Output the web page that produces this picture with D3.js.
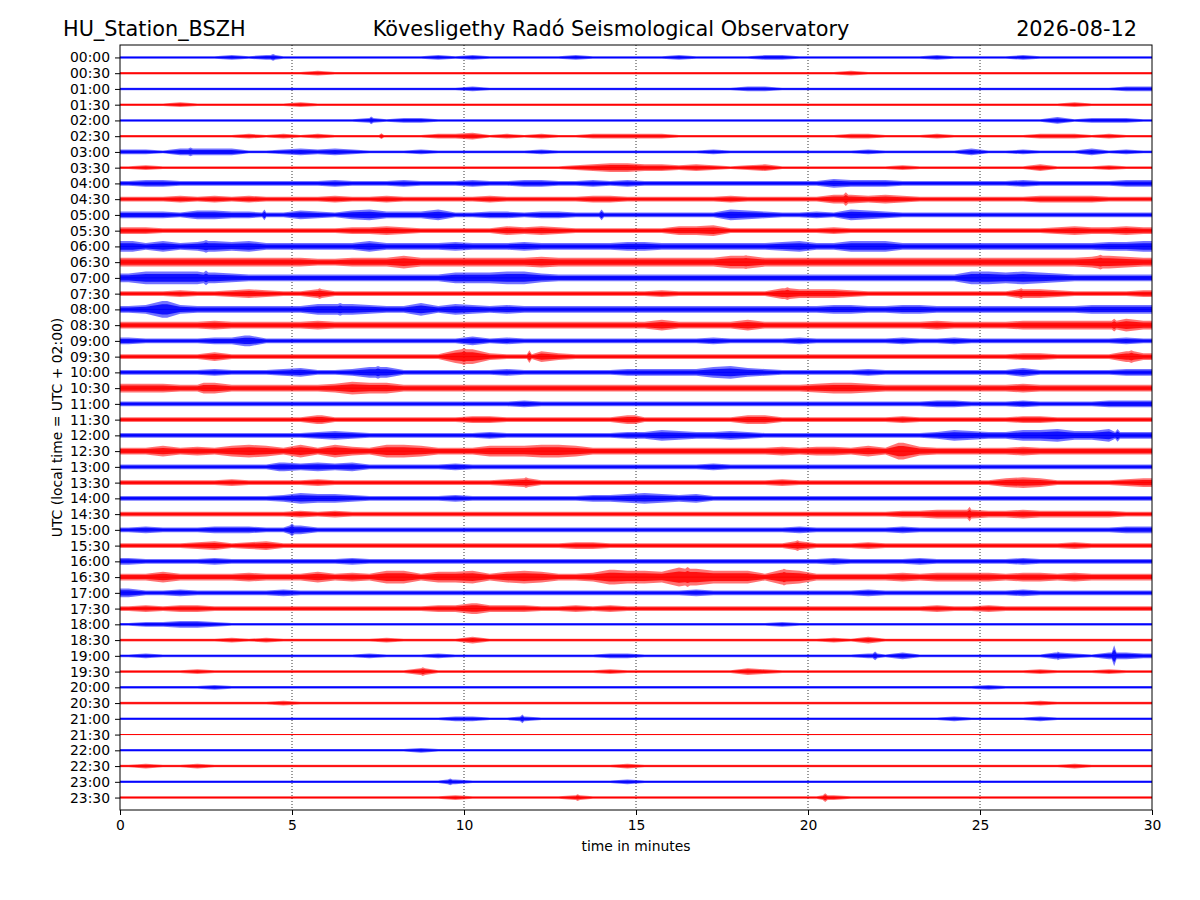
<!DOCTYPE html>
<html>
<head>
<meta charset="utf-8">
<script src="https://cdn.jsdelivr.net/npm/d3@7/dist/d3.min.js"></script>
<style>
  body { margin: 0; background: #fff; }
  text { font-family: "DejaVu Sans", sans-serif; }
</style>
</head>
<body>
<script>
// Row labels (UTC start of each 30 minute trace)
const rowLabels = [
  "00:00","00:30","01:00","01:30","02:00","02:30","03:00","03:30",
  "04:00","04:30","05:00","05:30","06:00","06:30","07:00","07:30",
  "08:00","08:30","09:00","09:30","10:00","10:30","11:00","11:30",
  "12:00","12:30","13:00","13:30","14:00","14:30","15:00","15:30",
  "16:00","16:30","17:00","17:30","18:00","18:30","19:00","19:30",
  "20:00","20:30","21:00","21:30","22:00","22:30","23:00","23:30"
];

const xTicks = [0, 5, 10, 15, 20, 25, 30];

// trace colours, alternating row by row
const traceColors = ["#0000ff", "#ff0000"];

// Envelope of each trace: one digit per half minute
// (60 per row), digit = rough half amplitude level
const envelopes = [
  "1111112121 1111111121 2111112111 1121111221 1111111211 1121111111",
  "1111111111 1211111111 1111111111 1111111111 1121111111 1111111111",
  "1111111111 1111111111 2111111111 1111112211 1111111111 1111111122",
  "1112111111 2111111111 1111111111 1111111111 1111111111 1111121111",
  "1111111111 1111212211 1111111111 1111111111 1111111111 1111312221",
  "1111111212 1211111122 3121211222 2211111111 1122111211 1112221211",
  "2213333112 3232111211 1111211111 1111211111 1112111113 1121113121",
  "1211111111 1111111111 1111112344 3323212311 1111121111 1113111211",
  "2332222222 2232223222 3223322323 2222222222 2433322222 2232222233",
  "2223232322 2232232222 2322222332 2222232222 2443432222 2223333222",
  "3332443322 4324533352 2332332222 2222254322 3254322222 2222222222",
  "3322222222 2223343222 2243432222 2244522222 2322222222 2222343343",
  "5353454533 3333533334 3334333334 4333333345 3355533333 3333333445",
  "4444444444 4334446444 4444544444 4444466444 4444444444 4444445654",
  "4666654333 3333333335 5566433333 3333333333 3333333336 6565433333",
  "2223223432 2422222222 2222222222 2322222254 4432222222 2244322223",
  "3484333333 3555433635 4343333333 3333333333 3443344333 3333334444",
  "3333343333 3433333333 3333333333 3533335333 3333333433 3344444464",
  "3222233522 2222222222 4232222222 2222322223 2222232232 2222222232",
  "2222242222 2222222226 7322532222 2222222222 2222222222 2233222253",
  "2222232223 4223552222 2232222223 3333564322 2223222222 2242222233",
  "4443353333 3346553333 3333333333 3333333333 4554333333 3343333333",
  "2222222222 2222222222 2223222222 2222222222 2222222332 2232222333",
  "2222222222 2422222222 3322222224 2222224422 2222232222 2233222222",
  "2222222222 2343222222 2322222223 3543343222 2222222354 3355644633",
  "3353435653 6364366533 3555665333 3333333343 4435384333 3343333333",
  "2222222224 3434222223 2222222222 2222322222 2222222222 2222222222",
  "2222223222 2322222222 2234222222 2222222232 2222222222 2454222234",
  "2222222223 5443222223 2222222334 5434222222 2222222222 2222222222",
  "2222222222 3232222222 2222222222 2222222222 2222233444 3343333322",
  "2322233322 4222222222 2222222222 2222222223 2222232222 2222222233",
  "2222342342 2222222222 2222223322 2222222224 2223222222 2222232222",
  "3222232222 2223222222 2222222222 2222222222 2322223222 2232222222",
  "3353333433 3534366355 6356533476 6598666376 3333343444 4344343333",
  "4223222223 2222222222 2222222222 2223222222 2223222222 2232222222",
  "2323322222 2222222233 5333223232 2222222222 2222222322 3222222222",
  "1223321111 1111111111 1111111111 1111111121 1111111111 1111111111",
  "1111112121 1111121111 3111111111 1111111111 1213111111 1111111111",
  "1211111111 1111211121 1111111122 1111111111 1112131111 1111321332",
  "1111211111 1111111311 1111111121 1111113211 1111111111 1112111211",
  "1111121111 1111111111 1111111111 1111111111 1111111111 2111111111",
  "1111111112 1111111111 1111111111 1111111111 1111111111 1112111111",
  "1111111111 1111111112 2112111111 1111111111 1111111121 1112111111",
  "0000000000 0000000000 0000000000 0000000000 0000000000 0000000000",
  "1111111111 1111111211 1111111111 1111111111 1111111111 1111111111",
  "1211211111 1111111111 1111111112 1111111111 1111111111 1111121111",
  "1111111111 1111111112 1111111112 1111111111 1111111111 1111111111",
  "1111111111 1111111112 1111112111 1111111111 1211111111 1111111111"
];

// short spikes: [row, minute, level]
const spikes = [
  [0, 4.45, 3], [4, 7.3, 3.5], [5, 7.6, 2.5], [6, 2.05, 4],
  [9, 21.1, 6.5], [10, 4.2, 5], [10, 14.0, 5], [12, 2.5, 6], [12, 0.3, 5],
  [13, 18.2, 6.5], [13, 28.5, 7], [14, 2.5, 7], [15, 5.8, 5], [15, 19.4, 6],
  [15, 26.2, 5], [16, 1.3, 8], [16, 6.4, 6], [17, 28.9, 6], [18, 3.7, 5],
  [19, 10.0, 8], [19, 11.9, 6], [19, 29.4, 6], [20, 7.5, 6], [21, 2.5, 5],
  [23, 5.8, 4], [23, 14.9, 4], [24, 29.0, 6], [25, 22.7, 8], [26, 4.7, 4],
  [27, 11.8, 5], [29, 24.7, 7], [30, 5.0, 6], [31, 19.7, 5],
  [33, 16.5, 9.5], [33, 19.3, 8], [33, 14.3, 7], [35, 10.3, 5],
  [38, 21.95, 4], [38, 27.25, 4], [38, 28.9, 10], [39, 8.8, 4],
  [42, 11.7, 4], [46, 9.6, 3], [47, 20.5, 4], [47, 13.3, 3]
];

const width = 1200, height = 900;
const plot = { left: 120, right: 1152, top: 45, bottom: 810 };

const svg = d3.select("body").append("svg")
  .attr("width", width)
  .attr("height", height);

const x = d3.scaleLinear().domain([0, 30]).range([plot.left, plot.right]);
const y = d3.scalePoint().domain(rowLabels).range([plot.top, plot.bottom]).padding(0.79);
const amp = d3.scaleLinear().domain([0, 1, 10]).range([0.5, 1.3, 10.5]);

svg.append("defs").append("clipPath").attr("id", "clip")
  .append("rect")
  .attr("x", plot.left).attr("y", plot.top)
  .attr("width", plot.right - plot.left).attr("height", plot.bottom - plot.top);

// dotted grid
svg.append("g")
  .selectAll("line")
  .data(xTicks.slice(1, -1))
  .join("line")
  .attr("x1", d => x(d)).attr("x2", d => x(d))
  .attr("y1", plot.top).attr("y2", plot.bottom)
  .attr("stroke", "#000")
  .attr("stroke-width", 0.8)
  .attr("stroke-dasharray", "1,2");

// build the points of each trace from its envelope and spikes
function tracePoints(i) {
  const bins = envelopes[i].replace(/ /g, "").split("").map(Number);
  const pts = bins.map((a, k) => ({ t: (k + 0.5) * 0.5, a: a }));
  pts.push({ t: 0, a: bins[0] }, { t: 30, a: bins[bins.length - 1] });
  spikes.filter(s => s[0] === i).forEach(s => {
    const base = bins[Math.min(59, Math.floor(s[1] / 0.5))];
    pts.push({ t: s[1] - 0.07, a: base }, { t: s[1], a: s[2] }, { t: s[1] + 0.07, a: base });
  });
  return pts.sort((a, b) => a.t - b.t);
}

function envArea(y0, k) {
  return d3.area()
    .x(d => x(d.t))
    .y0(d => y0 + amp(d.a) * k)
    .y1(d => y0 - amp(d.a) * k);
}

const traces = svg.append("g").attr("clip-path", "url(#clip)")
  .selectAll("g")
  .data(rowLabels)
  .join("g");

// outer halo, then denser core, like the noise of the real trace
traces.append("path")
  .attr("d", (label, i) => envArea(y(label), 1)(tracePoints(i)))
  .attr("fill", (d, i) => traceColors[i % 2])
  .attr("fill-opacity", 0.55);

traces.append("path")
  .attr("d", (label, i) => envArea(y(label), 0.6)(tracePoints(i)))
  .attr("fill", (d, i) => traceColors[i % 2])
  .attr("fill-opacity", 0.85);

traces.append("line")
  .attr("x1", x(0)).attr("x2", x(30))
  .attr("y1", d => y(d)).attr("y2", d => y(d))
  .attr("stroke", (d, i) => traceColors[i % 2])
  .attr("stroke-width", 1);

// axes
const xAxis = svg.append("g")
  .attr("transform", `translate(0,${plot.bottom})`)
  .call(d3.axisBottom(x).tickValues(xTicks).tickSize(5).tickPadding(5));
const yAxis = svg.append("g")
  .attr("transform", `translate(${plot.left},0)`)
  .call(d3.axisLeft(y).tickSize(5).tickPadding(5));

[xAxis, yAxis].forEach(g => {
  g.select(".domain").remove();
  g.selectAll("text").attr("font-size", 13.9).attr("fill", "#000")
    .style("font-family", "'DejaVu Sans', sans-serif");
  g.selectAll("line").attr("stroke", "#000");
});

svg.append("rect")
  .attr("x", plot.left).attr("y", plot.top)
  .attr("width", plot.right - plot.left).attr("height", plot.bottom - plot.top)
  .attr("fill", "none").attr("stroke", "#000").attr("stroke-width", 1);

// labels
svg.append("text")
  .attr("x", (plot.left + plot.right) / 2).attr("y", 851)
  .attr("text-anchor", "middle").attr("font-size", 13.9)
  .text("time in minutes");

svg.append("text")
  .attr("transform", `translate(62,${(plot.top + plot.bottom) / 2}) rotate(-90)`)
  .attr("text-anchor", "middle").attr("font-size", 13.9)
  .text("UTC (local time = UTC + 02:00)");

svg.append("text")
  .attr("x", 63).attr("y", 36).attr("font-size", 20.8)
  .text("HU_Station_BSZH");
svg.append("text")
  .attr("x", 611).attr("y", 36).attr("font-size", 20.8).attr("text-anchor", "middle")
  .text("Kövesligethy Radó Seismological Observatory");
svg.append("text")
  .attr("x", 1137).attr("y", 36).attr("font-size", 20.8).attr("text-anchor", "end")
  .text("2026-08-12");
</script>
</body>
</html>
